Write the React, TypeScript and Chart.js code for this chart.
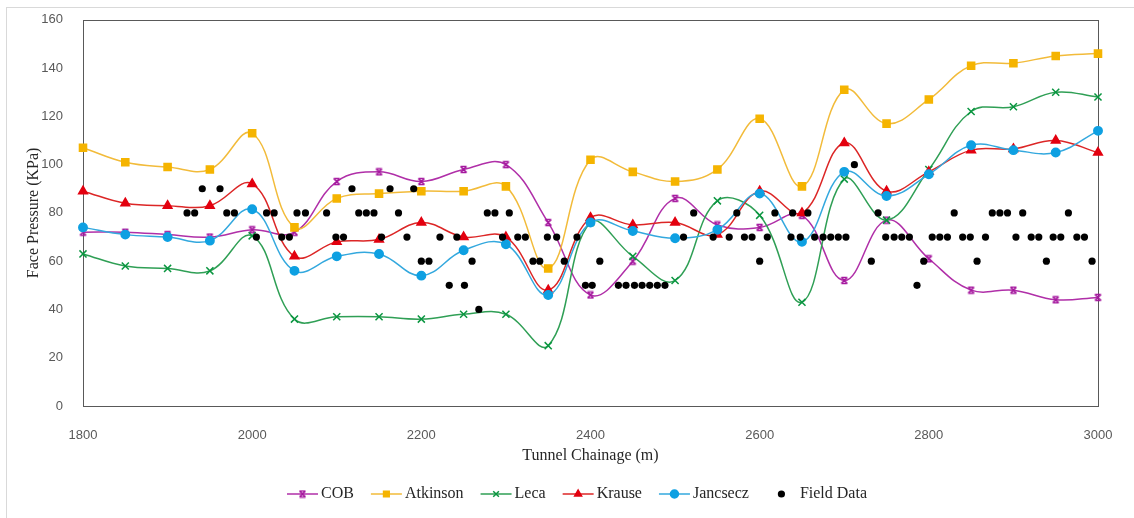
import React, { useEffect, useRef } from "react";
import { Chart, registerables } from "chart.js";
import { drawPoint } from "chart.js/helpers";

Chart.register(...registerables);

// Chainage stations (m) where each face-pressure model was evaluated
const chainage = [
  1800, 1850, 1900, 1950, 2000, 2050, 2100, 2150, 2200, 2250, 2300, 2350, 2400,
  2450, 2500, 2550, 2600, 2650, 2700, 2750, 2800, 2850, 2900, 2950, 3000,
];

// Face pressure (KPa) predicted by each method
const cob = [72, 72, 71, 70, 73, 72, 93, 97, 93, 98, 100, 76, 46, 60, 86, 75, 74, 79, 52, 77, 61, 48, 48, 44, 45];
const atkinson = [107, 101, 99, 98, 113, 74, 86, 88, 89, 89, 91, 57, 102, 97, 93, 98, 119, 91, 131, 117, 127, 141, 142, 145, 146];
const leca = [63, 58, 57, 56, 70.5, 36, 37, 37, 36, 38, 38, 25, 76, 62, 52, 85, 79, 43, 94, 77, 98, 122, 124, 130, 128];
const krause = [89, 84, 83, 83, 92, 62, 68, 69, 76, 70, 70, 48, 78, 75, 76, 71, 89, 80, 109, 89, 97, 106, 106.5, 110, 105];
const jancsecz = [74, 71, 70, 68.5, 81.5, 56, 62, 63, 54, 64.5, 67, 46, 76, 72.5, 69.5, 73, 88, 68, 97, 87, 96, 108, 106, 105, 114];

// Measured face pressure from the TBM log
const fieldChainage = [
  1923, 1932, 1941, 1962, 1970, 1979, 2005, 2017, 2026, 2035, 2044, 2053, 2063, 2088, 2099, 2108,
  2118, 2126, 2135, 2144, 2153, 2163, 2173, 2183, 2191, 2200, 2209, 2222, 2233, 2242, 2251, 2260,
  2268, 2278, 2287, 2296, 2304, 2314, 2323, 2332, 2340, 2349, 2360, 2369, 2384, 2394, 2402, 2411,
  2433, 2442, 2452, 2461, 2470, 2479, 2488, 2510, 2522, 2545, 2564, 2573, 2582, 2591, 2600, 2609,
  2618, 2637, 2639, 2648, 2657, 2665, 2675, 2684, 2693, 2702, 2712, 2732, 2740, 2749, 2759, 2768,
  2777, 2786, 2794, 2804, 2813, 2822, 2830, 2840, 2849, 2857, 2867, 2875, 2884, 2893, 2903, 2911,
  2921, 2930, 2939, 2947, 2956, 2965, 2975, 2984, 2993,
];
const fieldPressure = [
  80, 80, 90, 90, 80, 80, 70, 80, 80, 70, 70, 80, 80, 80, 70, 70,
  90, 80, 80, 80, 70, 90, 80, 70, 90, 60, 60, 70, 50, 70, 50, 60,
  40, 80, 80, 70, 80, 70, 70, 60, 60, 70, 70, 60, 70, 50, 50, 60,
  50, 50, 50, 50, 50, 50, 50, 70, 80, 70, 70, 80, 70, 70, 60, 70,
  80, 70, 80, 70, 80, 70, 70, 70, 70, 70, 100, 60, 80, 70, 70, 70,
  70, 50, 60, 70, 70, 70, 80, 70, 70, 60, 70, 80, 80, 80, 70, 80,
  70, 70, 60, 70, 70, 80, 70, 70, 60,
];

// Axis settings
const xMin = 1800;
const xMax = 3000;
const xStep = 200;
const yMin = 0;
const yMax = 160;
const yStep = 20;

const SERIF = '"Liberation Serif", "Times New Roman", serif';
const SANS = '"Liberation Sans", Arial, sans-serif';

// Hourglass-style star marker used for the COB series
function makeCobMarker(color: string): HTMLCanvasElement {
  const c = document.createElement("canvas");
  c.width = 9;
  c.height = 9;
  const g = c.getContext("2d")!;
  g.strokeStyle = color;
  g.lineWidth = 1.6;
  g.beginPath();
  g.moveTo(1.5, 1.5);
  g.lineTo(7.5, 7.5);
  g.moveTo(7.5, 1.5);
  g.lineTo(1.5, 7.5);
  g.moveTo(1.5, 1.5);
  g.lineTo(7.5, 1.5);
  g.moveTo(1.5, 7.5);
  g.lineTo(7.5, 7.5);
  g.stroke();
  return c;
}

const toPoints = (ys: number[]) => chainage.map((x, i) => ({ x, y: ys[i] }));

// Frame around the plotting area
const framePlugin = {
  id: "plotFrame",
  beforeDatasetsDraw(chart: any) {
    const { ctx, chartArea } = chart;
    const l = Math.round(chartArea.left) + 0.5;
    const t = Math.round(chartArea.top) + 0.5;
    const r = Math.round(chartArea.right) + 0.5;
    const b = Math.round(chartArea.bottom) + 0.5;
    ctx.save();
    ctx.strokeStyle = "#595959";
    ctx.lineWidth = 1;
    ctx.strokeRect(l, t, r - l, b - t);
    ctx.restore();
  },
};

// Legend along the bottom: short line segment with the marker, then the label
const legendPlugin = {
  id: "bottomLegend",
  afterDraw(chart: any) {
    const { ctx } = chart;
    const datasets = chart.data.datasets;
    const slot = 31;
    const gap = 3;
    const spacing = 17;
    const centerX = 577;
    const y = 494;
    ctx.save();
    ctx.font = `16px ${SERIF}`;
    const widths = datasets.map((ds: any) => ctx.measureText(ds.label).width);
    const total =
      widths.reduce((a: number, w: number) => a + slot + gap + w, 0) + spacing * (datasets.length - 1);
    let x = centerX - total / 2;
    datasets.forEach((ds: any, i: number) => {
      if (ds.showLine !== false) {
        ctx.strokeStyle = ds.borderColor;
        ctx.lineWidth = ds.borderWidth;
        ctx.beginPath();
        ctx.moveTo(x, y);
        ctx.lineTo(x + slot, y);
        ctx.stroke();
      }
      ctx.fillStyle = ds.pointBackgroundColor;
      ctx.strokeStyle = ds.pointBorderColor;
      ctx.lineWidth = ds.pointBorderWidth;
      const r = Math.min(ds.pointRadius, 4);
      drawPoint(ctx, { pointStyle: ds.pointStyle, rotation: 0, radius: r, borderWidth: ds.pointBorderWidth }, x + slot / 2, y);
      ctx.fillStyle = "#262626";
      ctx.textAlign = "left";
      ctx.textBaseline = "middle";
      ctx.fillText(ds.label, x + slot + gap, y);
      x += slot + gap + widths[i] + spacing;
    });
    ctx.restore();
  },
};

export default function App() {
  const canvasRef = useRef<HTMLCanvasElement | null>(null);

  useEffect(() => {
    if (!canvasRef.current) return;
    const cobColor = "#a5179e";
    const cobMarker = makeCobMarker(cobColor);

    const series = (
      label: string,
      ys: number[],
      line: string,
      mark: string,
      pointStyle: any,
      radius: number,
      order: number
    ) => ({
      type: "line" as const,
      label,
      data: toPoints(ys),
      borderColor: line,
      borderWidth: 1.5,
      backgroundColor: mark,
      pointBackgroundColor: mark,
      pointBorderColor: mark,
      pointBorderWidth: 1.5,
      pointStyle,
      pointRadius: radius,
      tension: 0.4,
      fill: false,
      clip: false,
      order,
    });

    const chart = new Chart(canvasRef.current, {
      type: "line",
      data: {
        datasets: [
          series("COB", cob, "#b02fa8", cobColor, cobMarker, 5, 6),
          series("Atkinson", atkinson, "#f2bb3a", "#f5b400", "rect", 5, 5),
          series("Leca", leca, "#2f9f55", "#0a9640", "crossRot", 5, 4),
          series("Krause", krause, "#dc2626", "#e3000f", "triangle", 5, 3),
          series("Jancsecz", jancsecz, "#33a8de", "#0ea0e2", "circle", 4.2, 2),
          {
            type: "line" as const,
            label: "Field Data",
            data: fieldChainage.map((x, i) => ({ x, y: fieldPressure[i] })),
            showLine: false,
            borderColor: "#000000",
            borderWidth: 0,
            backgroundColor: "#000000",
            pointBackgroundColor: "#000000",
            pointBorderColor: "#000000",
            pointBorderWidth: 0,
            pointStyle: "circle",
            pointRadius: 3.6,
            clip: false,
            order: 1,
          },
        ],
      },
      options: {
        responsive: false,
        animation: false,
        events: [],
        layout: { padding: { left: 0, right: 36, top: 19, bottom: 42 } },
        plugins: {
          legend: { display: false },
          tooltip: { enabled: false },
        },
        scales: {
          x: {
            type: "linear",
            min: xMin,
            max: xMax,
            grid: { display: false },
            border: { display: false },
            ticks: {
              stepSize: xStep,
              padding: 14,
              maxRotation: 0,
              color: "#595959",
              font: { family: SANS, size: 13 },
              callback: (v: any) => String(v),
            },
            title: {
              display: true,
              text: "Tunnel Chainage (m)",
              color: "#262626",
              font: { family: SERIF, size: 16 },
              padding: { top: 0, bottom: 11 },
            },
            afterFit: (s: any) => {
              s.height = 70;
            },
          },
          y: {
            type: "linear",
            min: yMin,
            max: yMax,
            grid: { display: false },
            border: { display: false },
            ticks: {
              stepSize: yStep,
              padding: 12,
              color: "#595959",
              font: { family: SANS, size: 13 },
              callback: (v: any) => String(v),
            },
            title: {
              display: true,
              text: "Face Pressure (KPa)",
              color: "#262626",
              font: { family: SERIF, size: 16 },
              padding: { top: 24, bottom: 0 },
            },
            afterFit: (s: any) => {
              s.width = 83;
            },
          },
        },
      },
      plugins: [framePlugin, legendPlugin],
    } as any);

    return () => chart.destroy();
  }, []);

  return (
    <div
      style={{
        position: "fixed",
        left: 0,
        top: 0,
        width: 1134,
        height: 518,
        overflow: "hidden",
        background: "#ffffff",
      }}
    >
      <div
        style={{
          position: "absolute",
          left: 6,
          top: 7,
          width: 1200,
          height: 600,
          border: "1px solid #d9d9d9",
        }}
      />
      <canvas
        ref={canvasRef}
        width={1134}
        height={518}
        style={{ position: "absolute", left: 0, top: 0, width: 1134, height: 518 }}
      />
    </div>
  );
}
